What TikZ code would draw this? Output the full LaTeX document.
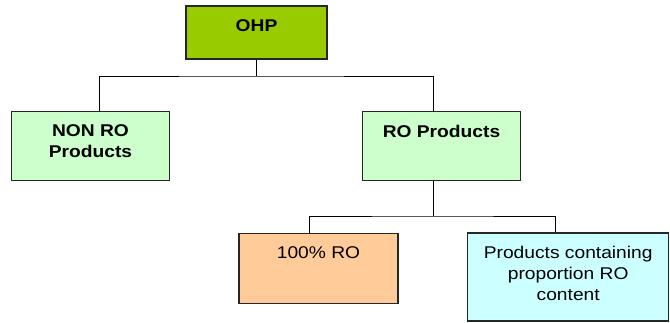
\documentclass[tikz,border=0pt]{standalone}
\usepackage{fontspec}
\setmainfont{Liberation Sans}[FakeStretch=1.13]
\definecolor{ohpgreen}{HTML}{99CC00}
\definecolor{lightgreen}{HTML}{CCFFCC}
\definecolor{lightorange}{HTML}{FFCC99}
\definecolor{lightcyan}{HTML}{CCFFFF}
\begin{document}
\begin{tikzpicture}[x=1pt,y=-1pt,
  box/.style={draw=black!85, line width=1.1pt, rectangle, inner sep=0pt},
  lbl/.style={anchor=north, align=center, inner sep=0pt, font=\fontsize{17}{20.7}\selectfont},
  conn/.style={draw=black, line width=0.9pt}]
\useasboundingbox (0,0) rectangle (670,323);
% boxes
\node[box, fill=ohpgreen, minimum width=141pt, minimum height=53pt] (ohp) at (256.5,32.5) {};
\node[box, fill=lightgreen, minimum width=158pt, minimum height=69pt] (nonro) at (90.5,146.3) {};
\node[box, fill=lightgreen, minimum width=158pt, minimum height=69pt] (ro) at (441.5,146.3) {};
\node[box, fill=lightorange, minimum width=159pt, minimum height=70pt] (full) at (318.5,268.2) {};
\node[box, fill=lightcyan, minimum width=201pt, minimum height=88pt] (prop) at (568.2,277) {};
% labels
\node[lbl, font=\fontsize{17}{20.7}\selectfont\bfseries] (tohp) at ([yshift=-13.5pt]ohp.north) {OHP};
\node[lbl, font=\fontsize{17}{20.7}\selectfont\bfseries] (tnonro) at ([yshift=-13.5pt]nonro.north) {NON RO\\Products};
\node[lbl, font=\fontsize{17}{20.7}\selectfont\bfseries] (tro) at ([yshift=-13.5pt]ro.north) {RO Products};
\node[lbl] (tfull) at ([yshift=-13.5pt]full.north) {100\% RO};
\node[lbl] (tprop) at ([yshift=-14pt]prop.north) {Products containing\\proportion RO\\content};
% connectors
\coordinate (b1) at (256.5,76);
\coordinate (b2) at (433,216);
\draw[conn] (ohp.south) -- (b1);
\draw[conn] ([xshift=8.5pt]nonro.north) |- (b1) -| ([xshift=-8.5pt]ro.north);
\draw[conn] ([xshift=-8.5pt]ro.south) -- (b2);
\draw[conn] ([xshift=-9pt]full.north) |- (b2) -| ([xshift=-13pt]prop.north);
\end{tikzpicture}
\end{document}
